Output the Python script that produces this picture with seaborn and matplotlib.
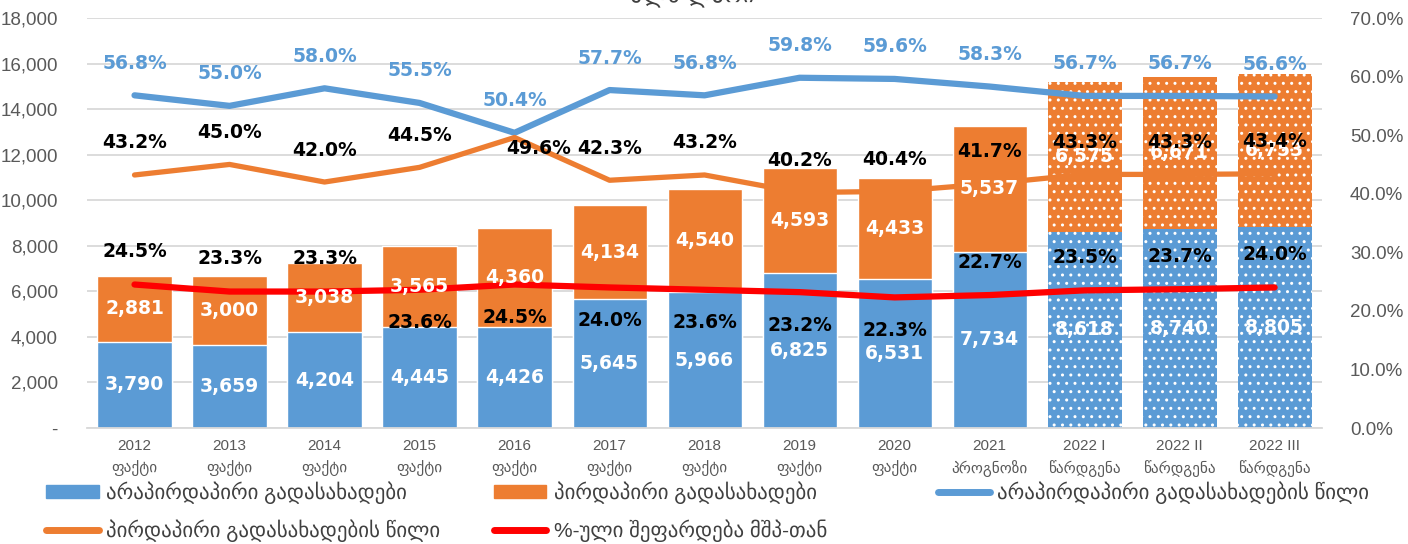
import numpy as np
import pandas as pd
import matplotlib.pyplot as plt
import seaborn as sns
from matplotlib.patches import Patch
from matplotlib.lines import Line2D
from matplotlib.ticker import FuncFormatter, MultipleLocator

# data (million GEL)
categories = ["2012\nფაქტი", "2013\nფაქტი", "2014\nფაქტი", "2015\nფაქტი",
              "2016\nფაქტი", "2017\nფაქტი", "2018\nფაქტი", "2019\nფაქტი",
              "2020\nფაქტი", "2021\nპროგნოზი", "2022 I\nწარდგენა",
              "2022 II\nწარდგენა", "2022 III\nწარდგენა"]
indirect = [3790, 3659, 4204, 4445, 4426, 5645, 5966, 6825, 6531, 7734, 8618, 8740, 8805]
direct = [2881, 3000, 3038, 3565, 4360, 4134, 4540, 4593, 4433, 5537, 6575, 6671, 6753]
indirect_share = [56.8, 55.0, 58.0, 55.5, 50.4, 57.7, 56.8, 59.8, 59.6, 58.3, 56.7, 56.7, 56.6]
direct_share = [43.2, 45.0, 42.0, 44.5, 49.6, 42.3, 43.2, 40.2, 40.4, 41.7, 43.3, 43.3, 43.4]
gdp_ratio = [24.5, 23.3, 23.3, 23.6, 24.5, 24.0, 23.6, 23.2, 22.3, 22.7, 23.5, 23.7, 24.0]

legend_labels = ["არაპირდაპირი გადასახადები", "პირდაპირი გადასახადები",
                 "არაპირდაპირი გადასახადების წილი", "პირდაპირი გადასახადების წილი",
                 "%-ული შეფარდება მშპ-თან"]
unit_title = "მლნ ლარი"

# label placement: +1 above the point, -1 below
gdp_label_side = [1, 1, 1, -1, -1, -1, -1, -1, -1, 1, 1, 1, 1]
direct_label_side = [1, 1, 1, 1, -1, 1, 1, 1, 1, 1, 1, 1, 1]

BLUE = "#5B9BD5"
ORANGE = "#ED7D31"
RED = "#FF0000"
GRAY = "#595959"
n_hatched = 3

sns.set_theme(style="white")
plt.rcParams["font.family"] = ["Liberation Sans", "DejaVu Sans"]
plt.rcParams["hatch.color"] = "white"
plt.rcParams["hatch.linewidth"] = 1.0

df = pd.DataFrame({"cat": categories, "indirect": indirect, "direct": direct})
df["total"] = df["indirect"] + df["direct"]
pos = np.arange(len(df))

fig = plt.figure(figsize=(14.08, 5.44), dpi=100)
ax = fig.add_axes([0.0618, 0.2132, 0.8772, 0.7537])

sns.barplot(data=df, x="cat", y="total", color=ORANGE, saturation=1, width=0.78, ax=ax)
sns.barplot(data=df, x="cat", y="indirect", color=BLUE, saturation=1, width=0.78, ax=ax)

nb = len(df)
for p in list(ax.patches[nb - n_hatched:nb]) + list(ax.patches[2 * nb - n_hatched:2 * nb]):
    p.set_hatch("..")
    p.set_edgecolor("white")
    p.set_linewidth(0)

ax.set_xlim(-0.5, nb - 0.5)
ax.set_ylim(0, 18000)
ax.yaxis.set_major_locator(MultipleLocator(2000))
ax.yaxis.set_major_formatter(FuncFormatter(lambda v, _: "-" if v == 0 else f"{v:,.0f}"))
ax.set_xlabel("")
ax.set_ylabel("")
ax.yaxis.grid(True, color="#D9D9D9", linewidth=1.3)
ax.set_axisbelow(True)
for s in ["left", "right", "top"]:
    ax.spines[s].set_visible(False)
ax.spines["bottom"].set_color("#D9D9D9")
ax.spines["bottom"].set_linewidth(1.3)
ax.tick_params(axis="y", length=0, labelsize=13.5, labelcolor=GRAY, pad=21)
ax.tick_params(axis="x", length=0, labelsize=11, labelcolor=GRAY, pad=8)
for t in ax.get_xticklabels():
    t.set_linespacing(1.55)

ax2 = ax.twinx()
sns.lineplot(x=pos, y=indirect_share, ax=ax2, color=BLUE, linewidth=4.5, solid_capstyle="round")
sns.lineplot(x=pos, y=direct_share, ax=ax2, color=ORANGE, linewidth=3.8, solid_capstyle="round")
sns.lineplot(x=pos, y=gdp_ratio, ax=ax2, color=RED, linewidth=4.5, solid_capstyle="round")
ax2.set_ylim(0, 70)
ax2.yaxis.set_major_locator(MultipleLocator(10))
ax2.yaxis.set_major_formatter(FuncFormatter(lambda v, _: f"{v:.1f}%"))
ax2.set_xlabel("")
ax2.set_ylabel("")
ax2.grid(False)
for s in ax2.spines.values():
    s.set_visible(False)
ax2.tick_params(axis="y", length=0, labelsize=13.5, labelcolor=GRAY, pad=20)

lab_font = dict(fontsize=13.5, fontweight="bold", family="DejaVu Sans", ha="center", va="center", zorder=10)

# stacked bar values
for i in range(nb):
    ax2.annotate(f"{indirect[i]:,}", xy=(i, indirect[i] / 2), xycoords=ax.transData,
                 color="white", **lab_font)
    ax2.annotate(f"{direct[i]:,}", xy=(i, indirect[i] + direct[i] / 2), xycoords=ax.transData,
                 color="white", **lab_font)

# share labels
for i in range(nb):
    ax2.annotate(f"{indirect_share[i]:.1f}%", xy=(i, indirect_share[i]), xytext=(0, 32),
                 textcoords="offset pixels", color=BLUE, **lab_font)
    dx = 24 if direct_label_side[i] < 0 else 0
    dy = 32 if direct_label_side[i] > 0 else -11
    ax2.annotate(f"{direct_share[i]:.1f}%", xy=(i, direct_share[i]), xytext=(dx, dy),
                 textcoords="offset pixels", color="black", **lab_font)
    ax2.annotate(f"{gdp_ratio[i]:.1f}%", xy=(i, gdp_ratio[i]), xytext=(0, 33 * gdp_label_side[i]),
                 textcoords="offset pixels", color="black", **lab_font)

fig.text(0.492, 1.01, unit_title, ha="center", va="center", fontsize=17, color="#404040")

# legend laid out in three columns like the original
leg_kw = dict(frameon=False, fontsize=15, handlelength=2.5, handleheight=0.6,
              handletextpad=0.35, labelspacing=0.72, borderaxespad=0, borderpad=0,
              loc="upper left", labelcolor="#404040")
col1 = [Patch(color=BLUE), Line2D([], [], color=ORANGE, lw=5, solid_capstyle="round")]
col2 = [Patch(color=ORANGE), Line2D([], [], color=RED, lw=5, solid_capstyle="round")]
col3 = [Line2D([], [], color=BLUE, lw=5, solid_capstyle="round")]
fig.legend(col1, [legend_labels[0], legend_labels[3]], bbox_to_anchor=(0.033, 0.115), **leg_kw)
fig.legend(col2, [legend_labels[1], legend_labels[4]], bbox_to_anchor=(0.351, 0.115), **leg_kw)
fig.legend(col3, [legend_labels[2]], bbox_to_anchor=(0.666, 0.115), **leg_kw)

fig.savefig("out.png", dpi=100)
